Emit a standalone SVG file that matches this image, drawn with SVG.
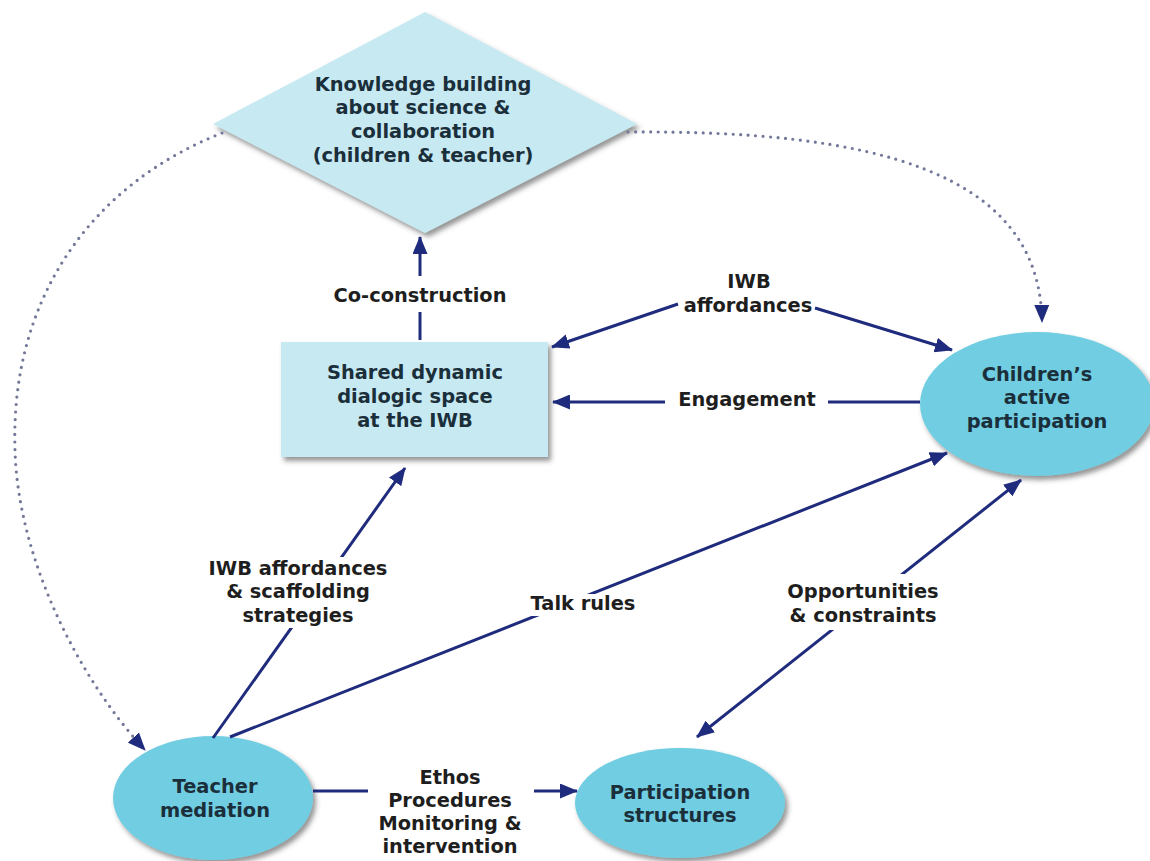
<svg xmlns="http://www.w3.org/2000/svg" width="1150" height="861" viewBox="0 0 1150 861">
<style>
text{font-family:"DejaVu Sans",Verdana,sans-serif;font-weight:bold;font-size:19.4px;text-anchor:middle}
.nt{fill:#1b2f3b}
.lt{fill:#1e1e1e}
.light{fill:#c6e9f2}
.cyan{fill:#6fcde2}
.ln{stroke:#1f2b7c;stroke-width:3;fill:none}
.dot{stroke:#737899;stroke-width:3.2;fill:none;stroke-dasharray:0 7.5;stroke-linecap:round}
.bg{fill:#ffffff}
</style>
<defs>
<filter id="sh" x="-10%" y="-10%" width="125%" height="130%">
<feDropShadow dx="3" dy="4" stdDeviation="2.5" flood-color="#404040" flood-opacity="0.55"/>
</filter>
<marker id="ah" viewBox="0 0 18 15" refX="17" refY="7.5" markerWidth="18" markerHeight="15" markerUnits="userSpaceOnUse" orient="auto-start-reverse">
<path d="M0,0 L18,7.5 L0,15 z" fill="#1f2b7c"/>
</marker>
<marker id="ahd" viewBox="0 0 18 15" refX="17" refY="7.5" markerWidth="18" markerHeight="15" markerUnits="userSpaceOnUse" orient="auto">
<path d="M0,0 L18,7.5 L0,15 z" fill="#1f2b7c"/>
</marker>
</defs>
<rect width="1150" height="861" fill="#ffffff"/>

<g id="node-knowledge">
<polygon class="light" filter="url(#sh)" points="425,12 637,124 425,233 213,124"/>
<text class="nt" x="423" y="91">Knowledge building</text>
<text class="nt" x="423" y="114">about science &amp;</text>
<text class="nt" x="423" y="138">collaboration</text>
<text class="nt" x="423" y="162">(children &amp; teacher)</text>
</g>

<g id="node-shared">
<rect class="light" filter="url(#sh)" x="281" y="342" width="267" height="115"/>
<text class="nt" x="415" y="379">Shared dynamic</text>
<text class="nt" x="415" y="403">dialogic space</text>
<text class="nt" x="415" y="427">at the IWB</text>
</g>

<g id="node-children">
<ellipse class="cyan" filter="url(#sh)" cx="1037" cy="404" rx="117" ry="72"/>
<text class="nt" x="1037" y="381">Children’s</text>
<text class="nt" x="1037" y="404">active</text>
<text class="nt" x="1037" y="428">participation</text>
</g>

<g id="node-teacher">
<ellipse class="cyan" filter="url(#sh)" cx="213" cy="798" rx="100" ry="62"/>
<text class="nt" x="215" y="793">Teacher</text>
<text class="nt" x="215" y="817">mediation</text>
</g>

<g id="node-participation">
<ellipse class="cyan" filter="url(#sh)" cx="680" cy="803" rx="105" ry="55"/>
<text class="nt" x="680" y="799">Participation</text>
<text class="nt" x="680" y="822">structures</text>
</g>

<g id="connectors">
<path class="dot" d="M222,133 C90,185 10,300 15,450 C18,560 80,680 145,750" marker-end="url(#ahd)"/>
<path class="dot" d="M628,132 C870,130 1040,170 1042,322" marker-end="url(#ahd)"/>

<line class="ln" x1="420" y1="340" x2="420" y2="237" marker-end="url(#ah)"/>
<line class="ln" x1="678" y1="304" x2="552" y2="347" marker-end="url(#ah)"/>
<line class="ln" x1="815" y1="308" x2="952" y2="350" marker-end="url(#ah)"/>
<line class="ln" x1="920" y1="402" x2="553" y2="402" marker-end="url(#ah)"/>
<line class="ln" x1="213" y1="738" x2="405" y2="468" marker-end="url(#ah)"/>
<line class="ln" x1="230" y1="737" x2="947" y2="453" marker-end="url(#ah)"/>
<line class="ln" x1="697" y1="737" x2="1021" y2="480" marker-start="url(#ah)" marker-end="url(#ah)"/>
<line class="ln" x1="313" y1="791" x2="577" y2="791" marker-end="url(#ah)"/>

<rect class="bg" x="328" y="276" width="184" height="36"/>
<text class="lt" x="420" y="302">Co-construction</text>

<text class="lt" x="749" y="288">IWB</text>
<text class="lt" x="748" y="312">affordances</text>

<rect class="bg" x="665" y="385" width="163" height="28"/>
<text class="lt" x="747" y="406">Engagement</text>

<rect class="bg" x="202" y="557" width="194" height="71"/>
<text class="lt" x="298" y="575">IWB affordances</text>
<text class="lt" x="298" y="598">&amp; scaffolding</text>
<text class="lt" x="298" y="622">strategies</text>

<rect class="bg" x="526" y="594" width="116" height="22"/>
<text class="lt" x="583" y="610">Talk rules</text>

<rect class="bg" x="782" y="574" width="162" height="56"/>
<text class="lt" x="863" y="598">Opportunities</text>
<text class="lt" x="863" y="622">&amp; constraints</text>

<rect class="bg" x="368" y="764" width="166" height="95"/>
<text class="lt" x="450" y="784">Ethos</text>
<text class="lt" x="450" y="807">Procedures</text>
<text class="lt" x="450" y="830">Monitoring &amp;</text>
<text class="lt" x="450" y="853">intervention</text>
</g>
</svg>
